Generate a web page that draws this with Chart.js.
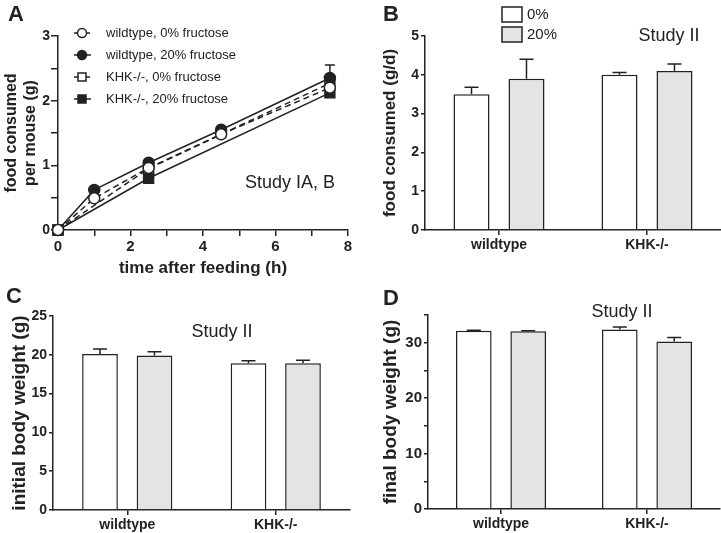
<!DOCTYPE html>
<html>
<head>
<meta charset="utf-8">
<script src="https://cdn.jsdelivr.net/npm/chart.js@4.4.0/dist/chart.umd.min.js"></script>
<style>
  body { margin: 0; background: #fff; }
  #wrap { position: relative; width: 721px; height: 533px; overflow: hidden;
    font-family: "Liberation Sans", Arial, sans-serif; color: #222; }
  canvas { position: absolute; }
  .lbl { position: absolute; line-height: 1; white-space: nowrap; transform: translate(-50%, -50%); }
  .letter { font-weight: bold; font-size: 22px; }
  .study { font-size: 18px; }
</style>
</head>
<body>
<div id="wrap">
  <canvas id="cA" width="360" height="285" style="left:0;top:0"></canvas>
  <canvas id="cB" width="361" height="270" style="left:360px;top:0"></canvas>
  <canvas id="cC" width="360" height="253" style="left:0;top:280px"></canvas>
  <canvas id="cD" width="361" height="253" style="left:360px;top:280px"></canvas>

  <div class="lbl letter" style="left:16px;top:14px">A</div>
  <div class="lbl letter" style="left:391px;top:14px">B</div>
  <div class="lbl letter" style="left:14px;top:296px">C</div>
  <div class="lbl letter" style="left:391px;top:298px">D</div>

  <div class="lbl study" style="left:290px;top:182px">Study IA, B</div>
  <div class="lbl study" style="left:669px;top:35px">Study II</div>
  <div class="lbl study" style="left:222px;top:331px">Study II</div>
  <div class="lbl study" style="left:622px;top:311px">Study II</div>
</div>

<script>
// panel A: food consumed per mouse over time
const hoursWT = [0, 1, 2.5, 4.5, 7.5];
const hoursKHK = [0, 2.5, 7.5];
const wt0 = [0, 0.49, 0.96, 1.48, 2.2];
const wt20 = [0, 0.62, 1.04, 1.55, 2.35];
const wt20Err = [0, 0, 0, 0, 0.2];
const khk0 = [0, 0.95, 2.27];
const khk20 = [0, 0.8, 2.12];

// panels B-D: bar groups
const genotypes = ["wildtype", "KHK-/-"];
const food0 = [3.5, 4.0];
const food0Err = [0.18, 0.06];
const food20 = [3.9, 4.1];
const food20Err = [0.5, 0.18];
const initW0 = [20.1, 18.9];
const initW0Err = [0.65, 0.32];
const initW20 = [19.9, 18.9];
const initW20Err = [0.5, 0.4];
const finalW0 = [32.15, 32.4];
const finalW0Err = [0.12, 0.45];
const finalW20 = [32.05, 30.2];
const finalW20Err = [0.12, 0.75];

const INK = "#222";
const GREY = "#e3e4e6";

Chart.defaults.font.family = '"Liberation Sans", Arial, sans-serif';
Chart.defaults.color = INK;

function xy(xs, ys) {
  return xs.map((x, i) => ({ x: x, y: ys[i] }));
}

function axisBase(tl) {
  return {
    border: { color: INK, width: 1.5 },
    grid: { drawOnChartArea: false, color: INK, lineWidth: 1.5, tickLength: tl || 5 },
  };
}

// error bars going up from each value
const errorBars = {
  id: "errorBars",
  afterDatasetsDraw(chart) {
    const ctx = chart.ctx;
    const yScale = chart.scales.y;
    chart.data.datasets.forEach((ds, i) => {
      if (!ds.errors) return;
      const meta = chart.getDatasetMeta(i);
      const cap = chart.config.type === "bar" ? 7 : 5;
      meta.data.forEach((el, j) => {
        const err = ds.errors[j];
        if (!err) return;
        const v = ds.data[j];
        const val = typeof v === "object" ? v.y : v;
        const yTop = yScale.getPixelForValue(val + err);
        ctx.save();
        ctx.strokeStyle = INK;
        ctx.lineWidth = 1.5;
        ctx.beginPath();
        ctx.moveTo(el.x, el.y);
        ctx.lineTo(el.x, yTop);
        ctx.moveTo(el.x - cap, yTop);
        ctx.lineTo(el.x + cap, yTop);
        ctx.stroke();
        ctx.restore();
      });
    });
  },
};

function drawMarker(ctx, style, fill, x, y, r) {
  ctx.beginPath();
  if (style === "rect") {
    ctx.rect(x - r, y - r, 2 * r, 2 * r);
  } else {
    ctx.arc(x, y, r, 0, Math.PI * 2);
  }
  ctx.fillStyle = fill;
  ctx.fill();
  ctx.stroke();
}

// legend inside panel A
const lineLegend = {
  id: "lineLegend",
  afterDraw(chart) {
    const ctx = chart.ctx;
    const left = chart.chartArea.left;
    const top = chart.chartArea.top;
    chart.data.datasets.forEach((ds, i) => {
      const y = top - 3 + i * 22;
      ctx.save();
      ctx.strokeStyle = INK;
      ctx.lineWidth = 1.5;
      ctx.setLineDash(ds.borderDash || []);
      ctx.beginPath();
      ctx.moveTo(left + 16, y);
      ctx.lineTo(left + 33, y);
      ctx.stroke();
      ctx.setLineDash([]);
      drawMarker(ctx, ds.pointStyle, ds.pointBackgroundColor, left + 24, y, ds.pointStyle === "rect" ? 4 : 4.5);
      ctx.fillStyle = INK;
      ctx.font = '13px "Liberation Sans", Arial, sans-serif';
      ctx.textBaseline = "middle";
      ctx.fillText(ds.label, left + 48, y);
      ctx.restore();
    });
  },
};

// legend boxes in panel B
const boxLegend = {
  id: "boxLegend",
  afterDraw(chart) {
    if (!chart.options.plugins.boxLegend.show) return;
    const ctx = chart.ctx;
    const left = chart.chartArea.left;
    chart.data.datasets.forEach((ds, i) => {
      const y = 7 + i * 20;
      ctx.save();
      ctx.fillStyle = ds.backgroundColor;
      ctx.strokeStyle = INK;
      ctx.lineWidth = 1.5;
      ctx.fillRect(left + 77, y, 20, 15);
      ctx.strokeRect(left + 77, y, 20, 15);
      ctx.fillStyle = INK;
      ctx.font = '15px "Liberation Sans", Arial, sans-serif';
      ctx.textBaseline = "middle";
      ctx.fillText(ds.label, left + 102, y + 8);
      ctx.restore();
    });
  },
};

function lineSet(label, data, dashed, style, filled, r) {
  return {
    label: label,
    data: data,
    borderColor: INK,
    borderWidth: 1.5,
    borderDash: dashed ? [6, 4] : [],
    pointStyle: style,
    pointRadius: r,
    pointBorderColor: INK,
    pointBorderWidth: 1.5,
    pointBackgroundColor: filled ? INK : "#fff",
    tension: 0,
    clip: false,
  };
}

new Chart(document.getElementById("cA"), {
  type: "line",
  data: {
    datasets: [
      lineSet("wildtype, 0% fructose", xy(hoursWT, wt0), true, "circle", false, 5.5),
      Object.assign(lineSet("wildtype, 20% fructose", xy(hoursWT, wt20), false, "circle", true, 5.5), { errors: wt20Err }),
      lineSet("KHK-/-, 0% fructose", xy(hoursKHK, khk0), true, "rect", false, 7),
      lineSet("KHK-/-, 20% fructose", xy(hoursKHK, khk20), false, "rect", true, 7),
    ],
  },
  options: {
    responsive: false,
    animation: false,
    events: [],
    layout: { padding: { top: 36, right: 12, left: 0, bottom: 0 } },
    plugins: { legend: { display: false }, tooltip: { enabled: false } },
    scales: {
      x: Object.assign(axisBase(6), {
        type: "linear",
        min: 0,
        max: 8,
        ticks: {
          stepSize: 1,
          autoSkip: false,
          maxRotation: 0,
          padding: 2,
          font: { size: 15, weight: "bold" },
          callback: (v) => (v % 2 === 0 ? v : ""),
        },
        title: { display: true, text: "time after feeding (h)", font: { size: 17, weight: "bold" }, padding: { top: 0, bottom: 6 } },
        afterFit: (s) => { s.height = 55; },
      }),
      y: Object.assign(axisBase(7), {
        min: 0,
        max: 3,
        ticks: {
          stepSize: 0.5,
          padding: 1,
          font: { size: 14, weight: "bold" },
          callback: (v) => (Number.isInteger(v) ? v : ""),
        },
        title: { display: true, text: ["food consumed", "per mouse (g)"], font: { size: 16, weight: "bold" }, padding: { top: 2, bottom: 0 } },
        afterFit: (s) => { s.width = 58; },
      }),
    },
  },
  plugins: [errorBars, lineLegend],
});

function barChart(id, opts) {
  const ds = [
    { label: "0%", data: opts.v0, errors: opts.e0, backgroundColor: "#fff" },
    { label: "20%", data: opts.v20, errors: opts.e20, backgroundColor: GREY },
  ].map((d) => Object.assign(d, {
    borderColor: INK,
    borderWidth: 1.5,
    categoryPercentage: opts.cat,
    barPercentage: 0.655,
  }));
  return new Chart(document.getElementById(id), {
    type: "bar",
    data: { labels: genotypes, datasets: ds },
    options: {
      responsive: false,
      animation: false,
      events: [],
      layout: { padding: opts.pad },
      plugins: { legend: { display: false }, tooltip: { enabled: false }, boxLegend: { show: !!opts.legend } },
      scales: {
        x: Object.assign(axisBase(), {
          ticks: { padding: 2, font: { size: 14, weight: "bold" } },
          grid: { drawOnChartArea: false, color: INK, lineWidth: 1.5, tickLength: 5, offset: false },
          afterFit: (s) => { s.height = opts.xh; },
        }),
        y: Object.assign(axisBase(4), {
          min: 0,
          max: opts.max,
          ticks: {
            stepSize: opts.step,
            padding: 2,
            font: { size: opts.tick, weight: "bold" },
            callback: (v) => (Math.abs(v / opts.labelEvery - Math.round(v / opts.labelEvery)) < 1e-6 ? v : ""),
          },
          title: { display: true, text: opts.title, font: { size: opts.tsize, weight: "bold" }, padding: { top: opts.tpad, bottom: 0 } },
          afterFit: (s) => { s.width = opts.yw; },
        }),
      },
    },
    plugins: [errorBars, boxLegend],
  });
}

barChart("cB", {
  v0: food0, e0: food0Err, v20: food20, e20: food20Err,
  max: 5, step: 0.5, labelEvery: 1, tick: 14,
  title: "food consumed (g/d)", tsize: 17, tpad: 20,
  pad: { top: 36, right: 0, left: 0, bottom: 0 }, xh: 40, yw: 65, cat: 0.743, legend: true,
});

barChart("cC", {
  v0: initW0, e0: initW0Err, v20: initW20, e20: initW20Err,
  max: 25, step: 5, labelEvery: 5, tick: 14,
  title: "initial body weight (g)", tsize: 19, tpad: 8,
  pad: { top: 36, right: 10, left: 0, bottom: 0 }, xh: 23, yw: 53, cat: 0.734,
});

barChart("cD", {
  v0: finalW0, e0: finalW0Err, v20: finalW20, e20: finalW20Err,
  max: 35, step: 5, labelEvery: 10, tick: 15,
  title: "final body weight (g)", tsize: 19, tpad: 19,
  pad: { top: 35, right: 1, left: 0, bottom: 0 }, xh: 24, yw: 68, cat: 0.745,
});
</script>
</body>
</html>
